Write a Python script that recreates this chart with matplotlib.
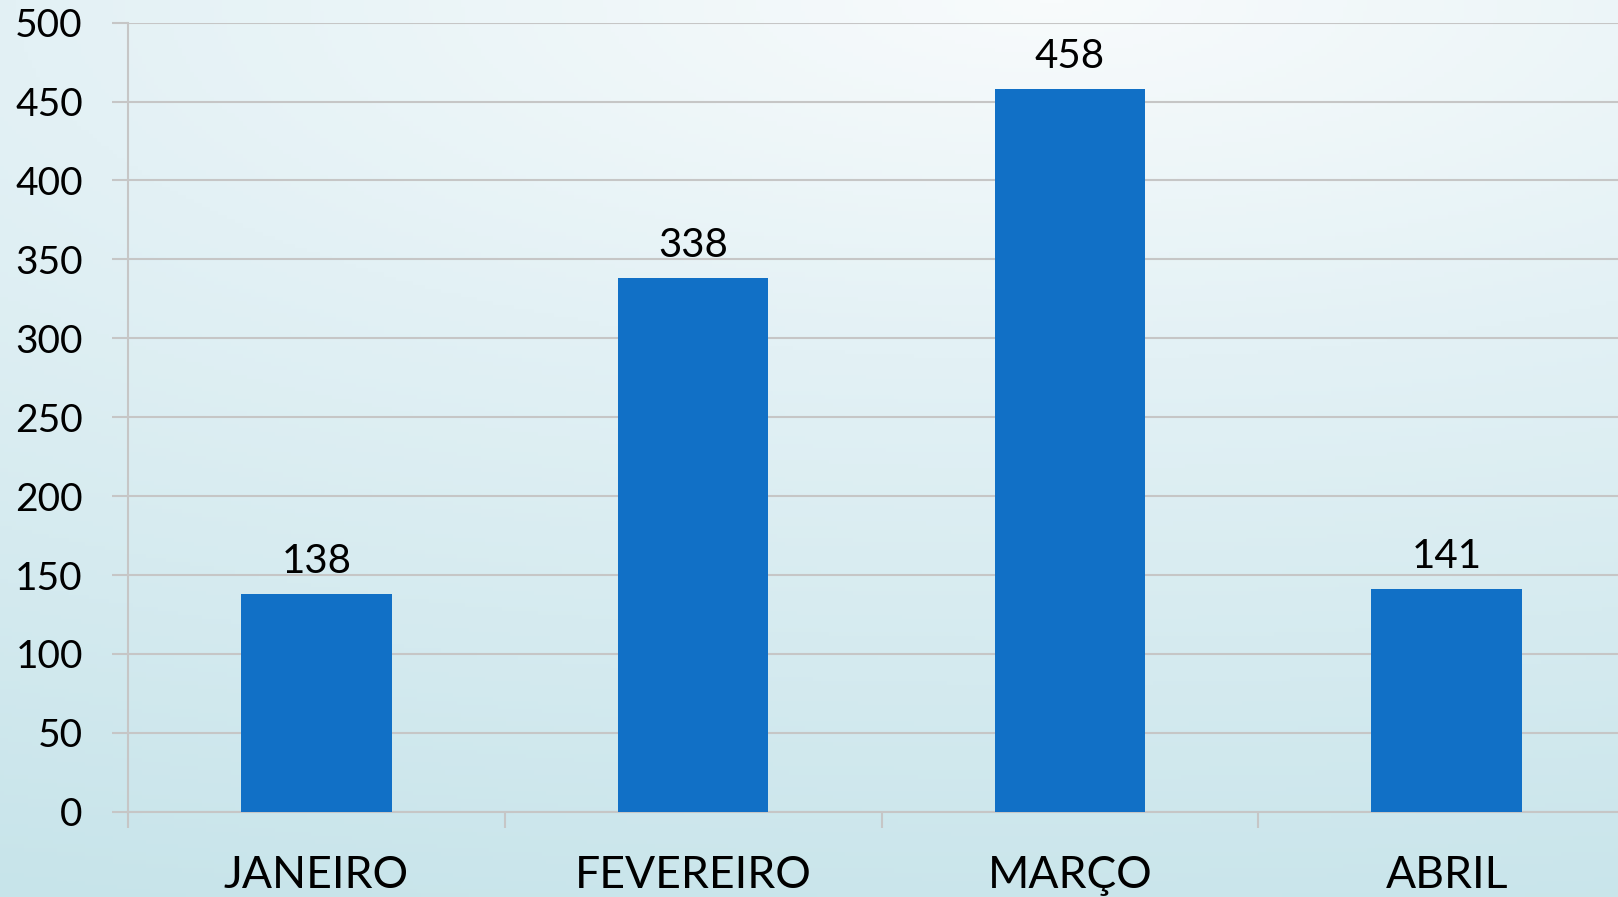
import numpy as np
import matplotlib
matplotlib.use("Agg")
import matplotlib.pyplot as plt
from matplotlib.colors import LinearSegmentedColormap

meses = ["JANEIRO", "FEVEREIRO", "MARÇO", "ABRIL"]
valores = [138, 338, 458, 141]
y_ticks = [0, 50, 100, 150, 200, 250, 300, 350, 400, 450, 500]

plt.rcParams['font.family'] = ['Lato', 'DejaVu Sans']

W, H, DPI = 1618, 897, 100
fig = plt.figure(figsize=(W / DPI, H / DPI), dpi=DPI)

# background gradient (light near the top centre, teal towards the bottom)
bg = fig.add_axes([0, 0, 1, 1], zorder=0)
gx, gy = np.meshgrid(np.linspace(0, 1, 400), np.linspace(0, 1, 220))
dist = np.sqrt(((gx - 0.65) / 1.6) ** 2 + gy ** 2)
cmap = LinearSegmentedColormap.from_list(
    "bg", [(0, "#f8fbfc"), (0.37, "#e3f1f5"), (1.0, "#c7e4ea")])
bg.imshow(dist, cmap=cmap, aspect="auto", extent=[0, 1, 1, 0], vmin=0, vmax=1.08)
bg.axis("off")

grid_c = "#c6c6c6"
left, right = 128 / W, 1635 / W
bottom, top = (H - 811.7) / H, (H - 22.7) / H
ax = fig.add_axes([left, bottom, right - left, top - bottom], zorder=1)
ax.set_facecolor("none")

x = np.arange(len(meses))
bars = ax.bar(x, valores, width=0.40, color="#1170c6", zorder=3)
for b, v in zip(bars, valores):
    ax.text(b.get_x() + b.get_width() / 2, v + 9, str(v), ha="center", va="bottom",
            fontsize=29, color="black")

ax.set_xlim(-0.5, len(meses) - 0.5)
ax.set_ylim(0, 500)
ax.set_yticks(y_ticks)
ax.set_yticklabels([str(t) for t in y_ticks], fontsize=28)
ax.set_xticks(x)
ax.set_xticklabels(meses, fontsize=32)
ax.set_xticks(np.arange(len(meses) + 1) - 0.5, minor=True)

ax.yaxis.grid(True, color=grid_c, linewidth=1.5, zorder=0)
ax.set_axisbelow(True)
for s in ["top", "right"]:
    ax.spines[s].set_visible(False)
for s in ["left", "bottom"]:
    ax.spines[s].set_color(grid_c)
    ax.spines[s].set_linewidth(1.5)

ax.tick_params(axis="y", length=11.5, width=1.5, color=grid_c, pad=21)
ax.tick_params(axis="x", which="major", length=0, pad=31)
ax.tick_params(axis="x", which="minor", length=11.5, width=1.5, color=grid_c)

fig.savefig("out.png", dpi=DPI)
